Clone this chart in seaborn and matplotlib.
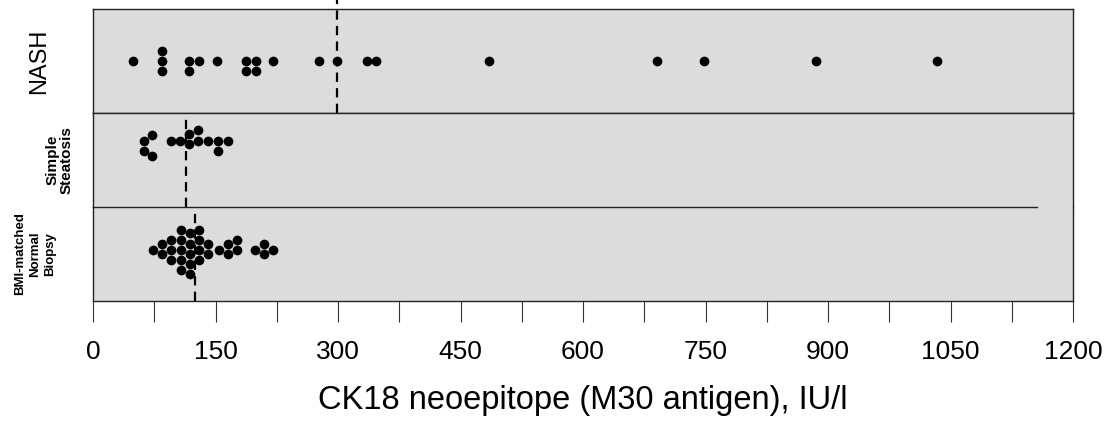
import numpy as np
import matplotlib
matplotlib.use("Agg")
import matplotlib.pyplot as plt
import seaborn as sns

# ---- data ----
group_labels = ["NASH", "Simple\nSteatosis", "BMI-matched\nNormal\nBiopsy"]
nash_vals = [49, 84, 84, 84, 118, 118, 130, 152, 187, 187, 199, 199, 220, 277,
             299, 335, 347, 485, 691, 748, 885, 1034]
ss_vals = [62, 62, 72, 72, 95, 107, 118, 118, 129, 129, 141, 153, 153, 165]
bmi_vals = [73, 84, 84, 95, 95, 95, 108, 108, 108, 108, 108, 119, 119, 119, 119, 119,
            130, 130, 130, 130, 141, 141, 154, 165, 165, 176, 176, 198, 209, 209, 221]
ref_lines = [299, 114, 125]          # dashed reference values per group
x_ticks = list(range(0, 1201, 75))
x_ticklabels = [str(v) if v % 150 == 0 else "" for v in x_ticks]
x_label = "CK18 neoepitope (M30 antigen), IU/l"

plt.rcParams["font.family"] = ["Liberation Sans", "DejaVu Sans"]

W, H = 1112, 425
fig = plt.figure(figsize=(W / 100, H / 100), dpi=100)
gs = fig.add_gridspec(3, 1, height_ratios=[104, 94, 94], hspace=0,
                      left=93 / W, right=1073 / W, top=1 - 9 / H, bottom=1 - 301 / H)
axes = [fig.add_subplot(gs[i]) for i in range(3)]

bg = "#dcdcdc"
frame_col = "#222222"
series = [nash_vals, ss_vals, bmi_vals]
# ylim (bottom, top) chosen so the swarm centre sits where it does in the reference
ylims = [(0.5, -0.5), (66.5 / 94, -27.5 / 94), (51 / 94, -43 / 94)]
label_x = [-0.055, -0.034, -0.059]
label_kw = [dict(fontsize=17, fontweight="normal"),
            dict(fontsize=11, fontweight="bold", linespacing=1.0),
            dict(fontsize=9.5, fontweight="bold", linespacing=1.35)]

for i, ax in enumerate(axes):
    ax.set_facecolor(bg)
    sns.swarmplot(x=series[i], ax=ax, color="black", size=7.0, orient="h")
    ax.set_xlim(0, 1200)
    ax.set_ylim(*ylims[i])
    ax.set_yticks([])
    ax.set_ylabel("")
    for s in ax.spines.values():
        s.set_color(frame_col)
        s.set_linewidth(1.0)
    ymax = 1 + 9 / 104 if i == 0 else 1.0
    ax.axvline(ref_lines[i], ymin=0, ymax=ymax, color="black", lw=1.6,
               ls=(0, (4.2, 2.8)), clip_on=False, zorder=1)
    ax.text(label_x[i], 0.5, group_labels[i], transform=ax.transAxes, rotation=90,
            ha="center", va="center", multialignment="center", **label_kw[i])
    if i < 2:
        ax.tick_params(bottom=False, labelbottom=False)
    ax.set_xlabel("")

# separator between Simple Steatosis and BMI panels stops short of the right edge
axes[1].spines["bottom"].set_visible(False)
axes[2].spines["top"].set_visible(False)
axes[2].plot([0, (1037 - 93) / 980], [1, 1], transform=axes[2].transAxes,
             color=frame_col, lw=1.0, clip_on=False)

ax = axes[2]
ax.set_xticks(x_ticks)
ax.set_xticklabels(x_ticklabels)
ax.tick_params(axis="x", length=15, width=0.8, color="#333333", pad=13,
               labelsize=19, labelcolor="black")
ax.set_xlabel(x_label, fontsize=23.5, labelpad=15)

fig.savefig("out.png", dpi=100, facecolor="white")
